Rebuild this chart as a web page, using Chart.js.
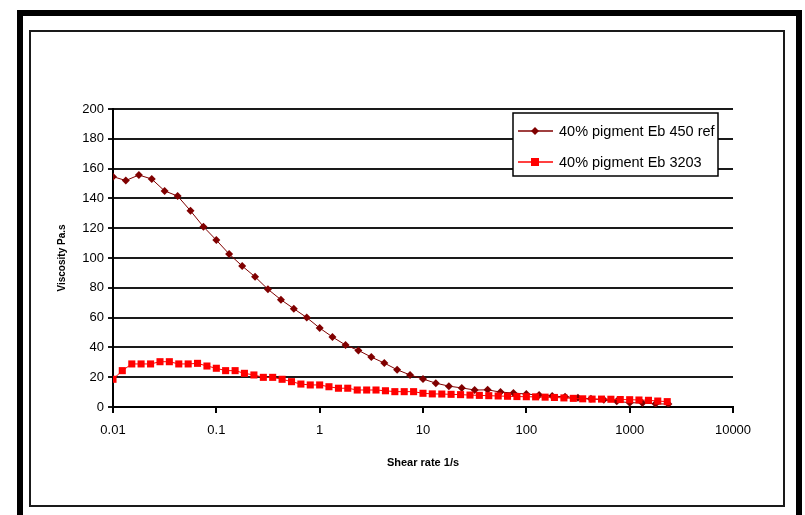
<!DOCTYPE html>
<html>
<head>
<meta charset="utf-8">
<title>Viscosity vs shear rate</title>
<script src="https://cdn.jsdelivr.net/npm/chart.js@4.4.1/dist/chart.umd.min.js"></script>
<style>
    html, body { margin: 0; padding: 0; background: #ffffff; }
    #wrap { width: 805px; height: 515px; }
</style>
</head>
<body>
<div id="wrap"><canvas id="viscosityChart" width="805" height="515"></canvas></div>
<script>
// Series 1: 40% pigment Eb 450 ref
const shearRateRef = [
    0.01, 0.0133, 0.0178, 0.0237, 0.0316, 0.0422, 0.0562, 0.075,
    0.1, 0.133, 0.178, 0.237, 0.316, 0.422, 0.562, 0.75,
    1, 1.33, 1.78, 2.37, 3.16, 4.22, 5.62, 7.5,
    10, 13.3, 17.8, 23.7, 31.6, 42.2, 56.2, 75,
    100, 133, 178, 237, 316, 422, 562, 750,
    1000, 1330, 1780, 2370
];
const viscosityRef = [
    154.6, 152, 155.7, 153, 145, 141.6, 131.7, 121,
    112, 102.7, 94.6, 87.4, 79, 72, 66, 60,
    53, 47, 41.6, 38, 33.5, 29.5, 25, 21.5,
    18.8, 16, 14, 12.8, 11.4, 11.5, 10, 9.4,
    8.7, 8, 7.4, 6.8, 6.2, 5.5, 4.8, 3.8,
    2.9, 2.7, 2.1, 2
];

// Series 2: 40% pigment Eb 3203
const shearRate3203 = [
    0.01, 0.0123, 0.0152, 0.0187, 0.0231, 0.0285, 0.0351, 0.0433, 0.0534, 0.0658, 0.0811,
    0.1, 0.123, 0.152, 0.187, 0.231, 0.285, 0.351, 0.433, 0.534, 0.658, 0.811,
    1, 1.23, 1.52, 1.87, 2.31, 2.85, 3.51, 4.33, 5.34, 6.58, 8.11,
    10, 12.3, 15.2, 18.7, 23.1, 28.5, 35.1, 43.3, 53.4, 65.8, 81.1,
    100, 123, 152, 187, 231, 285, 351, 433, 534, 658, 811,
    1000, 1230, 1520, 1870, 2310
];
const viscosity3203 = [
    18.6, 24.4, 28.9, 28.9, 28.9, 30.4, 30.4, 28.9, 28.9, 29.3, 27.5,
    26, 24.4, 24.4, 22.6, 21.5, 19.9, 19.9, 18.6, 17, 15.4, 14.8,
    14.8, 13.6, 12.6, 12.6, 11.4, 11.4, 11.4, 10.9, 10.3, 10.3, 10.3,
    9.2, 8.8, 8.7, 8.5, 8.3, 8.0, 7.8, 7.6, 7.4, 7.2, 7.0,
    6.9, 6.8, 6.6, 6.4, 6.1, 5.8, 5.5, 5.3, 5.3, 5.2, 5.0,
    4.9, 4.7, 4.5, 4.0, 3.6
];

const seriesLabels = ['40% pigment Eb 450 ref', '40% pigment Eb 3203'];
const xTickValues = [0.01, 0.1, 1, 10, 100, 1000, 10000];
const xTickLabels = ['0.01', '0.1', '1', '10', '100', '1000', '10000'];
const yTickValues = [0, 20, 40, 60, 80, 100, 120, 140, 160, 180, 200];

Chart.defaults.font.family = '"Liberation Sans", Arial, sans-serif';
Chart.defaults.color = '#000000';

document.addEventListener('DOMContentLoaded', function() {
    createViscosityChart();
});

function toPoints(xs, ys) {
    return xs.map(function(x, i) { return { x: x, y: ys[i] }; });
}

// page frame: thick outer border + thin inner border
const framePlugin = {
    id: 'frame',
    beforeDraw(chart) {
        const ctx = chart.ctx;
        ctx.save();
        ctx.fillStyle = '#ffffff';
        ctx.fillRect(0, 0, chart.width, chart.height);
        ctx.strokeStyle = '#000000';
        ctx.lineWidth = 6;
        ctx.strokeRect(20, 13, 779, 530);
        ctx.strokeStyle = '#1a1a1a';
        ctx.lineWidth = 2;
        ctx.strokeRect(30, 31, 754, 475);
        ctx.restore();
    }
};

// legend box sitting inside the plot, top right
const boxLegendPlugin = {
    id: 'boxLegend',
    afterDraw(chart) {
        const ctx = chart.ctx;
        ctx.save();
        ctx.fillStyle = '#ffffff';
        ctx.fillRect(513, 113, 205, 63);
        ctx.strokeStyle = '#000000';
        ctx.lineWidth = 1.5;
        ctx.strokeRect(513, 113, 205, 63);

        const rows = [131, 162];
        chart.data.datasets.forEach(function(ds, i) {
            const y = rows[i];
            ctx.strokeStyle = ds.borderColor;
            ctx.lineWidth = 1.5;
            ctx.beginPath();
            ctx.moveTo(518, y);
            ctx.lineTo(553, y);
            ctx.stroke();
            ctx.fillStyle = ds.backgroundColor;
            ctx.beginPath();
            if (ds.pointStyle === 'rectRot') {
                ctx.moveTo(535, y - 4);
                ctx.lineTo(539, y);
                ctx.lineTo(535, y + 4);
                ctx.lineTo(531, y);
                ctx.closePath();
            } else {
                ctx.rect(531, y - 4, 8, 8);
            }
            ctx.fill();

            ctx.fillStyle = '#000000';
            ctx.font = '14.5px "Liberation Sans", Arial, sans-serif';
            ctx.textBaseline = 'middle';
            ctx.textAlign = 'left';
            ctx.fillText(ds.label, 559, y + 1);
        });
        ctx.restore();
    }
};

function createViscosityChart() {
    const ctx = document.getElementById('viscosityChart').getContext('2d');

    new Chart(ctx, {
        type: 'line',
        data: {
            datasets: [
                {
                    label: seriesLabels[0],
                    data: toPoints(shearRateRef, viscosityRef),
                    borderColor: '#800000',
                    backgroundColor: '#800000',
                    borderWidth: 1,
                    pointStyle: 'rectRot',
                    pointRadius: 4,
                    pointBorderWidth: 0,
                    tension: 0,
                    order: 1
                },
                {
                    label: seriesLabels[1],
                    data: toPoints(shearRate3203, viscosity3203),
                    borderColor: '#ff0000',
                    backgroundColor: '#ff0000',
                    borderWidth: 1,
                    pointStyle: 'rect',
                    pointRadius: 5,
                    pointBorderWidth: 0,
                    tension: 0,
                    order: 0
                }
            ]
        },
        options: {
            responsive: false,
            animation: false,
            events: [],
            layout: {
                padding: { left: 50, right: 72, top: 109, bottom: 45 }
            },
            plugins: {
                legend: { display: false },
                tooltip: { enabled: false }
            },
            scales: {
                x: {
                    type: 'logarithmic',
                    min: 0.01,
                    max: 10000,
                    afterBuildTicks: function(scale) {
                        scale.ticks = xTickValues.map(function(v) { return { value: v }; });
                    },
                    afterFit: function(scale) {
                        scale.height = 63;
                    },
                    ticks: {
                        autoSkip: false,
                        maxRotation: 0,
                        padding: 10,
                        font: { size: 13 },
                        callback: function(value, index) {
                            return xTickLabels[index];
                        }
                    },
                    grid: {
                        drawOnChartArea: false,
                        drawTicks: true,
                        tickLength: 6,
                        color: '#000000',
                        lineWidth: 2
                    },
                    border: { color: '#000000', width: 2 },
                    title: {
                        display: true,
                        text: 'Shear rate 1/s',
                        font: { size: 11, weight: 'bold' },
                        padding: 0
                    }
                },
                y: {
                    min: 0,
                    max: 200,
                    afterBuildTicks: function(scale) {
                        scale.ticks = yTickValues.map(function(v) { return { value: v }; });
                    },
                    afterFit: function(scale) {
                        scale.width = 63;
                    },
                    ticks: {
                        padding: 4,
                        font: { size: 13 }
                    },
                    grid: {
                        color: '#1a1a1a',
                        lineWidth: 2,
                        tickLength: 5
                    },
                    border: { color: '#000000', width: 2 },
                    title: {
                        display: true,
                        text: 'Viscosity Pa.s',
                        font: { size: 10, weight: 'bold' },
                        padding: { top: 6, bottom: 0 }
                    }
                }
            }
        },
        plugins: [framePlugin, boxLegendPlugin]
    });
}
</script>
</body>
</html>
